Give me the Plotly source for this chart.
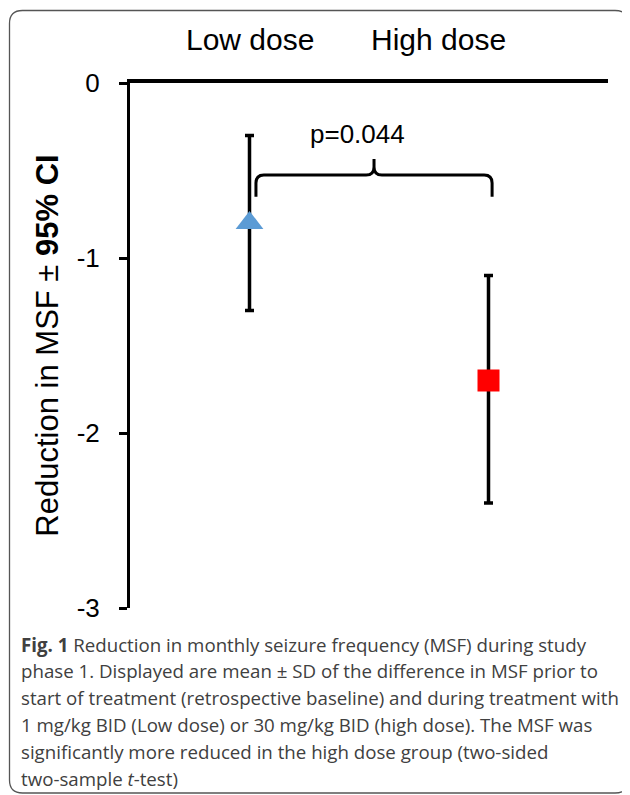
import plotly.graph_objects as go

# ---- data ----
categories = ["Low dose", "High dose"]
cat_x = [0.5, 1.5]
means = [-0.8, -1.7]
err_plus = [0.5, 0.6]
err_minus = [0.5, 0.7]
marker_symbols = ["triangle-up", "square"]
marker_colors = ["#5B9BD5", "#FF0000"]
y_ticks = [0, -1, -2, -3]
p_text = "p=0.044"
caption_lines = [
    "<b>Fig. 1</b> Reduction in monthly seizure frequency (MSF) during study",
    "phase 1. Displayed are mean ± SD of the difference in MSF prior to",
    "start of treatment (retrospective baseline) and during treatment with",
    "1 mg/kg BID (Low dose) or 30 mg/kg BID (high dose). The MSF was",
    "significantly more reduced in the high dose group (two-sided",
    "two-sample <i>t</i>-test)",
]

# ---- layout geometry (screen pixels; page body has an 8px margin) ----
OFF = 8
W, H = 630 - OFF, 795 - OFF
L, R, T, B = 130, 608, 83, 608   # plot area in screen pixels
PW, PH = R - L, B - T

def px(x):
    return (x - L) / PW

def py(y):
    return (B - y) / PH

CHART_FONT = "Arial, Liberation Sans, sans-serif"
CAP_FONT = "Open Sans, Noto Sans, sans-serif"

fig = go.Figure()
for i in range(len(categories)):
    fig.add_trace(go.Scatter(
        x=[cat_x[i]], y=[means[i]], mode="markers",
        marker=dict(symbol=marker_symbols[i], color=marker_colors[i],
                    size=22 if marker_symbols[i] == "square" else 24,
                    line=dict(width=0)),
        error_y=dict(type="data", symmetric=False,
                     array=[err_plus[i]], arrayminus=[err_minus[i]],
                     color="black", thickness=3.5, width=4.5),
        showlegend=False, hoverinfo="skip",
    ))

shapes = []
# brace between the two groups
xl, xr = cat_x[0] + 0.027, cat_x[1] + 0.015
xc = (xl + xr) / 2
y0, yb, yt = -0.526, -0.65, -0.434
dx, dy = 0.033, 0.046
brace = (f"M{xl},{yb} L{xl},{y0-dy} Q{xl},{y0} {xl+dx},{y0} L{xc-dx},{y0} "
         f"Q{xc},{y0} {xc},{y0+dy} L{xc},{yt} "
         f"M{xc},{y0+dy} Q{xc},{y0} {xc+dx},{y0} L{xr-dx},{y0} "
         f"Q{xr},{y0} {xr},{y0-dy} L{xr},{yb}")
shapes.append(dict(type="path", xref="x", yref="y", path=brace,
                   line=dict(color="black", width=3)))

# rounded outer border
bx0, bx1, by0, by1, rr = 9.5, 628, 10.5, 793, 13
X0, X1, Ytop, Ybot = px(bx0), px(bx1), py(by0), py(by1)
rx, ry = rr / PW, rr / PH
border = (f"M{X0+rx},{Ytop} L{X1-rx},{Ytop} Q{X1},{Ytop} {X1},{Ytop-ry} "
          f"L{X1},{Ybot+ry} Q{X1},{Ybot} {X1-rx},{Ybot} L{X0+rx},{Ybot} "
          f"Q{X0},{Ybot} {X0},{Ybot+ry} L{X0},{Ytop-ry} Q{X0},{Ytop} {X0+rx},{Ytop} Z")
shapes.append(dict(type="path", xref="paper", yref="paper", path=border,
                   line=dict(color="#555555", width=1.3)))

annotations = []
# category labels at top
label_x = [cat_x[0], 1.29]
for lx, name in zip(label_x, categories):
    annotations.append(dict(x=lx, y=py(40), xref="x", yref="paper", text=name,
                            showarrow=False, xanchor="center", yanchor="middle",
                            font=dict(family=CHART_FONT, size=30, color="black")))
# p value
annotations.append(dict(x=xc - 0.07, y=-0.29, xref="x", yref="y", text=p_text,
                        showarrow=False, xanchor="center", yanchor="middle",
                        font=dict(family=CHART_FONT, size=26, color="black")))
# caption
for i, line in enumerate(caption_lines):
    annotations.append(dict(x=px(19), y=py(644 + 26.8 * i), xref="paper", yref="paper",
                            text=line, showarrow=False, xanchor="left", yanchor="middle",
                            align="left",
                            font=dict(family=CAP_FONT, size=18.7, color="#404040")))

fig.update_layout(
    width=W, height=H,
    margin=dict(l=L - OFF, r=(W + OFF) - R, t=T - OFF, b=(H + OFF) - B, pad=0),
    paper_bgcolor="white", plot_bgcolor="white",
    shapes=shapes, annotations=annotations,
    xaxis=dict(range=[0, 2], side="top", showline=True, linecolor="black", linewidth=4,
               showticklabels=False, ticks="", showgrid=False, zeroline=False,
               fixedrange=True),
    yaxis=dict(range=[-3, 0], tickvals=y_ticks, ticktext=[str(v) for v in y_ticks],
               showline=True, linecolor="black", linewidth=3,
               ticks="outside", ticklen=8, tickwidth=3, tickcolor="black",
               ticklabelstandoff=14,
               tickfont=dict(family=CHART_FONT, size=26, color="black"),
               showgrid=False, zeroline=False, fixedrange=True,
               title=dict(text="Reduction in MSF ± <b>95% CI</b>", standoff=9,
                          font=dict(family=CHART_FONT, size=31, color="black"))),
)

fig.write_html("out.html")
